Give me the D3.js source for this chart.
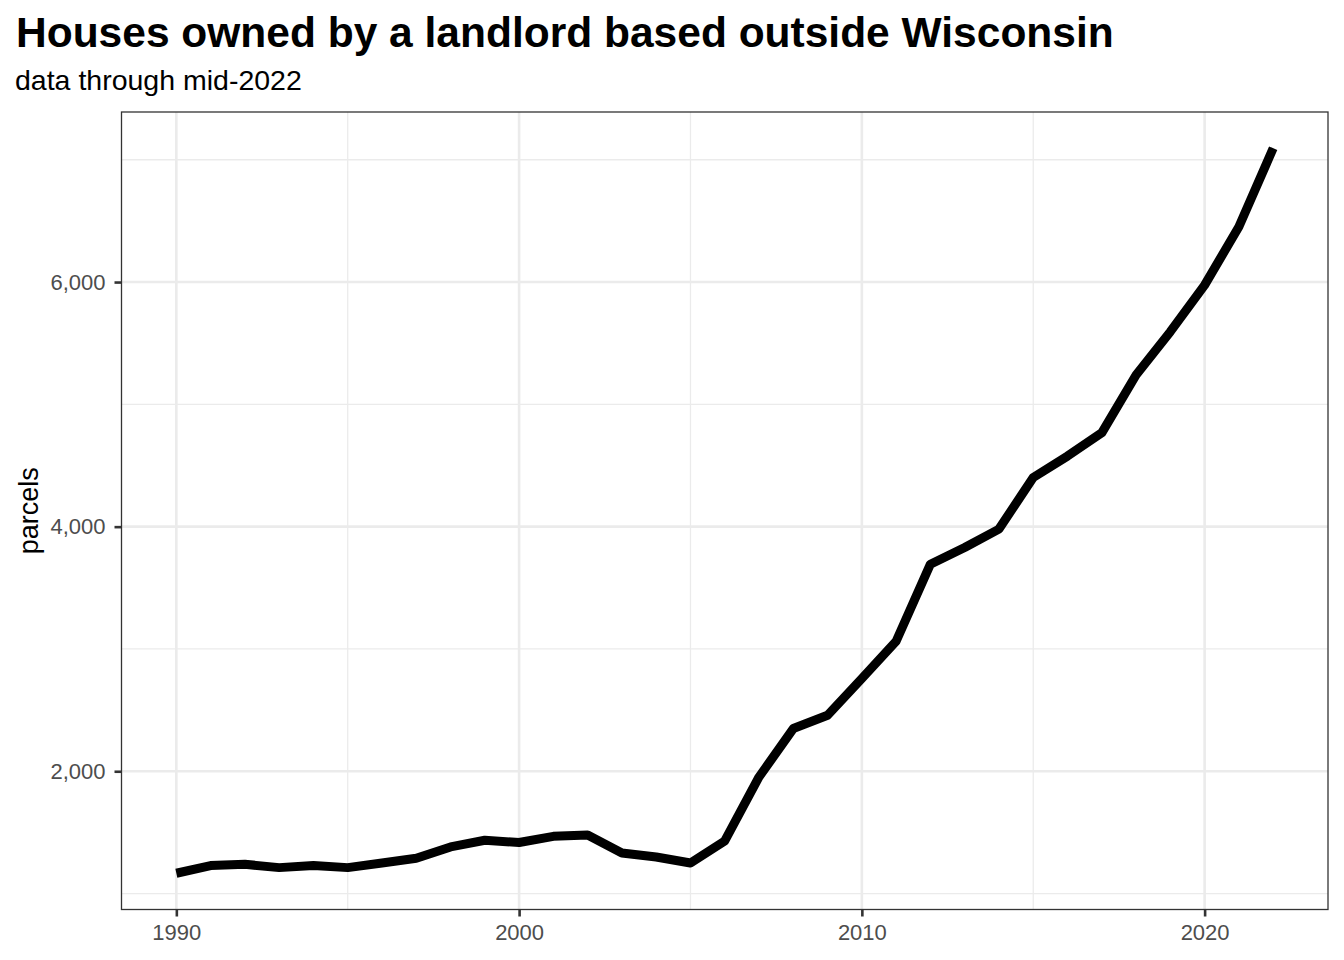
<!DOCTYPE html>
<html><head><meta charset="utf-8">
<script src="https://cdn.jsdelivr.net/npm/d3@7"></script>
<style>body{margin:0;background:#fff;} text{font-family:"Liberation Sans",Arial,sans-serif;}</style>
</head><body><svg id="c" width="1344" height="960"></svg>
<script>
const years = [1990,1991,1992,1993,1994,1995,1996,1997,1998,1999,2000,2001,2002,2003,2004,2005,2006,2007,2008,2009,2010,2011,2012,2013,2014,2015,2016,2017,2018,2019,2020,2021,2022];
const parcels = [1166,1229,1239,1212,1229,1212,1250,1288,1381,1436,1417,1468,1479,1332,1299,1250,1430,1953,2349,2458,2758,3063,3693,3830,3980,4402,4577,4767,5240,5594,5975,6452,7094];
const xMajor = [1990,2000,2010,2020];
const xMinor = [1995,2005,2015];
const yMajor = [2000,4000,6000];
const yMinor = [1000,3000,5000,7000];
const title = "Houses owned by a landlord based outside Wisconsin";
const subtitle = "data through mid-2022";
const yLabel = "parcels";

const svg = d3.select("#c");
const P = {l:121.5, r:1328, t:112, b:909.5};
const x = d3.scaleLinear().domain([1988.4, 2023.6]).range([P.l, P.r]);
const yExt = d3.extent(parcels), pad = (yExt[1]-yExt[0])*0.05;
const y = d3.scaleLinear().domain([yExt[0]-pad, yExt[1]+pad]).range([P.b, P.t]);

const g = svg.append("g");
g.selectAll(".xm").data(xMinor).join("line").attr("x1",d=>x(d)).attr("x2",d=>x(d)).attr("y1",P.t).attr("y2",P.b).attr("stroke","#ebebeb").attr("stroke-width",1.3);
g.selectAll(".ym").data(yMinor).join("line").attr("y1",d=>y(d)).attr("y2",d=>y(d)).attr("x1",P.l).attr("x2",P.r).attr("stroke","#ebebeb").attr("stroke-width",1.3);
g.selectAll(".xM").data(xMajor).join("line").attr("x1",d=>x(d)).attr("x2",d=>x(d)).attr("y1",P.t).attr("y2",P.b).attr("stroke","#ebebeb").attr("stroke-width",2.6);
g.selectAll(".yM").data(yMajor).join("line").attr("y1",d=>y(d)).attr("y2",d=>y(d)).attr("x1",P.l).attr("x2",P.r).attr("stroke","#ebebeb").attr("stroke-width",2.6);

const line = d3.line().x((d,i)=>x(years[i])).y(d=>y(d));
svg.append("path").datum(parcels).attr("d",line).attr("fill","none").attr("stroke","#000").attr("stroke-width",9).attr("stroke-linecap","butt").attr("stroke-linejoin","round");

svg.append("rect").attr("x",P.l).attr("y",P.t).attr("width",P.r-P.l).attr("height",P.b-P.t).attr("fill","none").attr("stroke","#333").attr("stroke-width",1.3);

const xa = svg.append("g").attr("transform",`translate(0,${P.b})`).call(d3.axisBottom(x).tickValues(xMajor).tickFormat(d3.format("d")).tickSize(7).tickPadding(8));
const ya = svg.append("g").attr("transform",`translate(${P.l},0)`).call(d3.axisLeft(y).tickValues(yMajor).tickFormat(d3.format(",")).tickSize(7).tickPadding(9));
[xa,ya].forEach(a=>{
  a.attr("font-size",null).attr("font-family",null);
  a.select(".domain").remove();
  a.selectAll(".tick line").attr("stroke","#333").attr("stroke-width",2.6);
  a.selectAll(".tick text").attr("fill","#4d4d4d").style("font-size","22px");
});

svg.append("text").attr("x",16).attr("y",47).text(title).style("font-size","42.5px").style("font-weight","bold").attr("fill","#000");
svg.append("text").attr("x",15).attr("y",90).text(subtitle).style("font-size","28.5px").attr("fill","#000");
svg.append("text").attr("transform",`translate(38,${(P.t+P.b)/2}) rotate(-90)`).attr("text-anchor","middle").text(yLabel).style("font-size","27px").attr("fill","#000");
</script></body></html>
